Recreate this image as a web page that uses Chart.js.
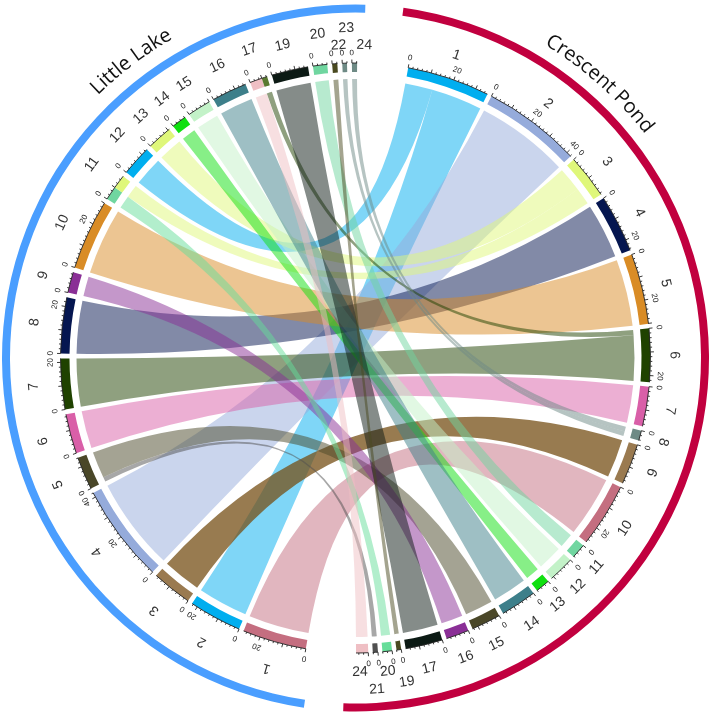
<!DOCTYPE html>
<html><head><meta charset="utf-8">
<style>html,body{margin:0;padding:0;background:#fff}canvas{display:block}</style>
<script src="https://cdn.jsdelivr.net/npm/chart.js@4"></script>
</head><body><canvas id="c" width="709" height="716"></canvas>
<script>
// ---- data ----
const sectorNames = ["Crescent Pond", "Little Lake"];
const sectorColors = ["#c1003f", "#4a9eff"];
const rightLabels = ["1","2","3","4","5","6","7","8","9","10","11","12","13","14","15","16","17","19","20","21","24"];
const rightValues = [35.4,42.2,18.7,24.8,30.2,22.8,17,4.3,17.4,27.4,6.3,11.1,6.1,15.4,12.6,9.8,15.9,2,4.1,2.2,5.2];
const rightColors = ["#00aeef","#95abdb","#dff77a","#051650","#d98c26","#1f4200","#d95fa8","#6e8a85","#9a7a50","#c46e80","#70d6a0","#c3f2c8","#10e010","#3d7f8a","#4a4728","#8a2f96","#0c1a14","#4a4a20","#66dd99","#505050","#efbfc4"];
const leftLabels = ["1","2","3","4","5","6","7","8","9","10","11","","12","13","14","15","16","17","","19","20","22","23","24"];
const leftValues = [27.4,22.6,17.2,42,14.1,17,21.7,23.9,8.9,30,5.9,5.9,13,10.7,6.3,10,15,5.2,2.4,15.7,6.1,2.2,2,2.2];
const leftColors = ["#c46e80","#00aeef","#9a7a50","#95abdb","#4a4728","#d95fa8","#1f4200","#051650","#8a2f96","#d98c26","#70d6a0","#dff77a","#00aeef","#dff77a","#10e010","#c3f2c8","#3d7f8a","#efbfc4","#5a7a30","#0c1a14","#70d6a0","#4a4a20","#6e8a85","#6e8a85"];
// chords: index into right / left segments, and flow value (in drawing order)
const chordRight = [0,0,1,2,2,3,4,5,5,6,7,7,8,9,10,11,12,13,19,14,15,16,17,18,20];
const chordLeft  = [12,1,3,13,11,7,9,18,6,5,23,22,2,0,20,15,14,16,4,4,8,19,21,10,17];
const chordValue = [12.4,23,42.2,11,7.7,24.8,30.2,2.4,20.4,17,2.15,2.15,17.4,27.4,6.3,11.1,6.1,15.4,2.2,12.6,9.8,15.9,2,4.1,5.2];
const tickLabelValues = [0,20,40];

// ---- layout constants ----
const TOP_GAP = 18.9, BOTTOM_GAP = 21.3, END_GAP = 2.8, RIGHT_GAP = 1.9, LEFT_GAP = 2.08;
const NO_GAP_AFTER = [10, 17];          // left segments drawn touching the next one
const OUTER_LABEL_R = {r:319, l:323};
const labelOverride = {
  r:{ "24":[179.2,314], "21":[176.3,332], "20":[174.1,315], "19":[171,328] },
  l:{ "24":[361.6,313], "23":[358.4,330], "22":[356.9,313], "20":[353.3,326], "19":[346.9,321], "17":[341,326], "11":[306.3,327], "12":[313.1,326] }
};
const CHORD_R = 279;

// ---- build ring data ----
const ringData = [TOP_GAP], ringColors = ["rgba(0,0,0,0)"], rightIdx = [], leftIdx = [];
rightValues.forEach((v,i)=>{
  rightIdx.push(ringData.length); ringData.push(v); ringColors.push(rightColors[i]);
  if(i<rightValues.length-1){ringData.push(RIGHT_GAP); ringColors.push("rgba(0,0,0,0)");}
});
ringData.push(BOTTOM_GAP); ringColors.push("rgba(0,0,0,0)");
leftValues.forEach((v,i)=>{
  leftIdx.push(ringData.length); ringData.push(v); ringColors.push(leftColors[i]);
  if(i<leftValues.length-1 && !NO_GAP_AFTER.includes(i)){ringData.push(LEFT_GAP); ringColors.push("rgba(0,0,0,0)");}
});
ringData.push(END_GAP); ringColors.push("rgba(0,0,0,0)");

function hexA(h,a){const n=parseInt(h.slice(1),16);return `rgba(${n>>16},${(n>>8)&255},${n&255},${a})`;}

const chordPlugin = {
  id:'chords',
  afterDatasetsDraw(chart){
    const ctx = chart.ctx, arcs = chart.getDatasetMeta(2).data;
    const cx = arcs[0].x, cy = arcs[0].y;
    const segAngles = (list,vals,side)=>list.map((ix,i)=>{const a=arcs[ix];return {a0:a.startAngle,a1:a.endAngle,val:vals[i],side,r0:a.innerRadius,r1:a.outerRadius};});
    const R = segAngles(rightIdx,rightValues,'r'), L = segAngles(leftIdx,leftValues,'l');
    const sumBy=(arr)=>{const m={};arr.forEach((k,i)=>{m[k]=(m[k]||0)+chordValue[i];});return m;};
    const sumR=sumBy(chordRight), sumL=sumBy(chordLeft);
    const usedR={}, usedL={};
    const spans = chordValue.map((v,i)=>{
      const rs=chordRight[i], ls=chordLeft[i], sr=R[rs], sl=L[ls];
      const ur=usedR[rs]||0, ul=usedL[ls]||0;
      const kr=(sr.a1-sr.a0)/sumR[rs], kl=(sl.a1-sl.a0)/sumL[ls];
      usedR[rs]=ur+v; usedL[ls]=ul+v;
      return {a0:sr.a0+ur*kr,a1:sr.a0+(ur+v)*kr,b0:sl.a0+ul*kl,b1:sl.a0+(ul+v)*kl,color:rightColors[rs]};
    });
    ctx.save();
    spans.forEach(s=>{
      const alpha = s.color==="#9a7a50" ? 0.75 : 0.5;
      const col = s.color==="#9a7a50" ? hexA("#754f16",alpha) : hexA(s.color,alpha);
      ctx.beginPath();
      ctx.moveTo(cx+CHORD_R*Math.cos(s.a0),cy+CHORD_R*Math.sin(s.a0));
      ctx.arc(cx,cy,CHORD_R,s.a0,s.a1);
      ctx.quadraticCurveTo(cx,cy,cx+CHORD_R*Math.cos(s.b0),cy+CHORD_R*Math.sin(s.b0));
      ctx.arc(cx,cy,CHORD_R,s.b0,s.b1);
      ctx.quadraticCurveTo(cx,cy,cx+CHORD_R*Math.cos(s.a0),cy+CHORD_R*Math.sin(s.a0));
      ctx.closePath();
      ctx.fillStyle=col; ctx.fill();
    });
    // axis ticks
    const drawAxis=(segs,labels)=>{
      segs.forEach((s,i)=>{
        const unit=(s.a1-s.a0)/s.val, rb=s.r1;
        ctx.strokeStyle="#222"; ctx.lineWidth=0.9;
        ctx.beginPath(); ctx.arc(cx,cy,rb,s.a0,s.a1); ctx.stroke();
        for(let v=0;v<=s.val;v+=2){
          const a=s.a0+v*unit, len=(v%10===0)?3.5:1.8;
          ctx.beginPath();
          ctx.moveTo(cx+rb*Math.cos(a),cy+rb*Math.sin(a));
          ctx.lineTo(cx+(rb+len)*Math.cos(a),cy+(rb+len)*Math.sin(a));
          ctx.stroke();
        }
        tickLabelValues.forEach(t=>{
          if(t>s.val) return;
          if(t===0 && labels[i]==="") return;
          const a=s.a0+t*unit;
          ctx.save();
          ctx.translate(cx+(rb+10)*Math.cos(a),cy+(rb+10)*Math.sin(a));
          ctx.rotate(a+Math.PI/2);
          ctx.font="8px 'Liberation Sans'"; ctx.fillStyle="#222"; ctx.textAlign="center"; ctx.textBaseline="middle";
          ctx.fillText(String(t),0,0);
          ctx.restore();
        });
      });
    };
    drawAxis(R,rightLabels); drawAxis(L,leftLabels);
    // segment labels
    const drawLabels=(segs,labels,key)=>{
      segs.forEach((s,i)=>{
        if(labels[i]==="") return;
        const o=labelOverride[key][labels[i]];
        const mid=(s.a0+s.a1)/2;
        const a=o?(o[0]-90)*Math.PI/180:mid, r=o?o[1]:OUTER_LABEL_R[key];
        let deg=((a*180/Math.PI+90)%360+360)%360;
        let rot=deg; if(deg>110&&deg<180.5) rot=deg-180;
        ctx.save();
        ctx.translate(cx+r*Math.cos(a),cy+r*Math.sin(a));
        ctx.rotate(rot*Math.PI/180);
        ctx.font="14px 'Liberation Sans'"; ctx.fillStyle="#333"; ctx.textAlign="center"; ctx.textBaseline="middle";
        ctx.fillText(labels[i],0,0);
        ctx.restore();
      });
    };
    drawLabels(R,rightLabels,'r'); drawLabels(L,leftLabels,'l');
    // sector titles along the outer arcs
    [[sectorNames[0],41.7,366],[sectorNames[1],322.9,368]].forEach(([txt,deg,r])=>{
      ctx.save();
      ctx.font="20px 'Open Sans'"; ctx.fillStyle="#111"; ctx.textAlign="left"; ctx.textBaseline="alphabetic";
      const w=ctx.measureText(txt).width;
      for(let i=0;i<txt.length;i++){
        const full=ctx.measureText(txt.slice(0,i+1)).width, prev=ctx.measureText(txt.slice(0,i)).width, cw=full-prev;
        const th=(deg-90)*Math.PI/180+(prev+cw/2-w/2)/r;
        ctx.save();
        ctx.translate(cx+r*Math.cos(th),cy+r*Math.sin(th));
        ctx.rotate(th+Math.PI/2);
        ctx.fillText(txt[i],-cw/2,0);
        ctx.restore();
      }
      ctx.restore();
    });
    ctx.restore();
  }
};

new Chart(document.getElementById('c'),{
  type:'doughnut',
  plugins:[chordPlugin],
  data:{
    labels:ringData.map((_,i)=>String(i)),
    datasets:[
      {label:'sectors',data:[6.2,174.2,6.4,173.2],backgroundColor:["rgba(0,0,0,0)",sectorColors[0],"rgba(0,0,0,0)",sectorColors[1]],borderWidth:0,weight:8},
      {label:'spacer',data:[1],backgroundColor:["rgba(0,0,0,0)"],borderWidth:0,weight:50.5},
      {label:'segments',data:ringData,backgroundColor:ringColors,borderWidth:0,weight:9}
    ]
  },
  options:{
    responsive:false,animation:false,rotation:1.6,cutout:286,
    layout:{padding:{left:2}},
    plugins:{legend:{display:false},tooltip:{enabled:false},title:{display:false}},
    events:[]
  }
});
</script></body></html>
